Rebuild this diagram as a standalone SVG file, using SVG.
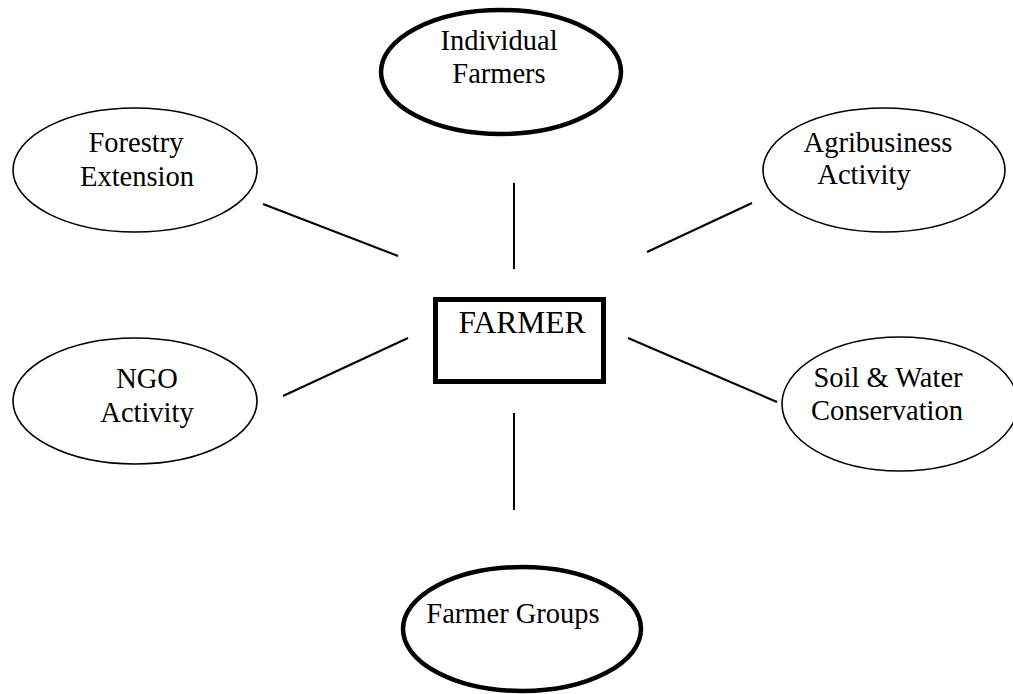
<svg xmlns="http://www.w3.org/2000/svg" width="1013" height="694" viewBox="0 0 1013 694">
<style>
.bg{fill:#ffffff}
.thin{fill:#ffffff;stroke:#000;stroke-width:1.6}
.thick{fill:#ffffff;stroke:#000;stroke-width:4.5}
.box{fill:#ffffff;stroke:#000;stroke-width:5}
.t{font-family:"Liberation Serif","Times New Roman",serif;font-size:28.5px;fill:#000;text-anchor:middle}
.big{font-size:31.5px}
.c line{stroke:#000;stroke-width:2}
</style>
<rect class="bg" x="0" y="0" width="1013" height="694"/>
<g id="connectors" class="c">
<line x1="263" y1="204" x2="398" y2="256"/>
<line x1="514" y1="183" x2="514" y2="269"/>
<line x1="647" y1="252" x2="752" y2="203"/>
<line x1="283" y1="396" x2="408" y2="338"/>
<line x1="628" y1="338" x2="777" y2="402"/>
<line x1="514" y1="413" x2="514" y2="510"/>
</g>
<g id="individual-farmers">
<ellipse class="thick" cx="501" cy="72" rx="120" ry="62"/>
<text class="t" x="499" y="50">Individual</text>
<text class="t" x="499" y="83">Farmers</text>
</g>
<g id="forestry-extension">
<ellipse class="thin" cx="135" cy="170" rx="122" ry="62"/>
<text class="t" x="136" y="152">Forestry</text>
<text class="t" x="137" y="186">Extension</text>
</g>
<g id="agribusiness-activity">
<ellipse class="thin" cx="884" cy="170" rx="121" ry="62"/>
<text class="t" x="878" y="152">Agribusiness</text>
<text class="t" x="864" y="184">Activity</text>
</g>
<g id="farmer">
<rect class="box" x="435.5" y="299.5" width="168" height="82"/>
<text class="t big" x="522" y="333">FARMER</text>
</g>
<g id="ngo-activity">
<ellipse class="thin" cx="135" cy="401" rx="122" ry="63"/>
<text class="t" x="147" y="388">NGO</text>
<text class="t" x="147" y="422">Activity</text>
</g>
<g id="soil-water-conservation">
<ellipse class="thin" cx="900" cy="404" rx="118" ry="67"/>
<text class="t" x="888" y="387">Soil &amp; Water</text>
<text class="t" x="887" y="420">Conservation</text>
</g>
<g id="farmer-groups">
<ellipse class="thick" cx="522" cy="629" rx="119" ry="62"/>
<text class="t" x="513" y="623">Farmer Groups</text>
</g>
</svg>
